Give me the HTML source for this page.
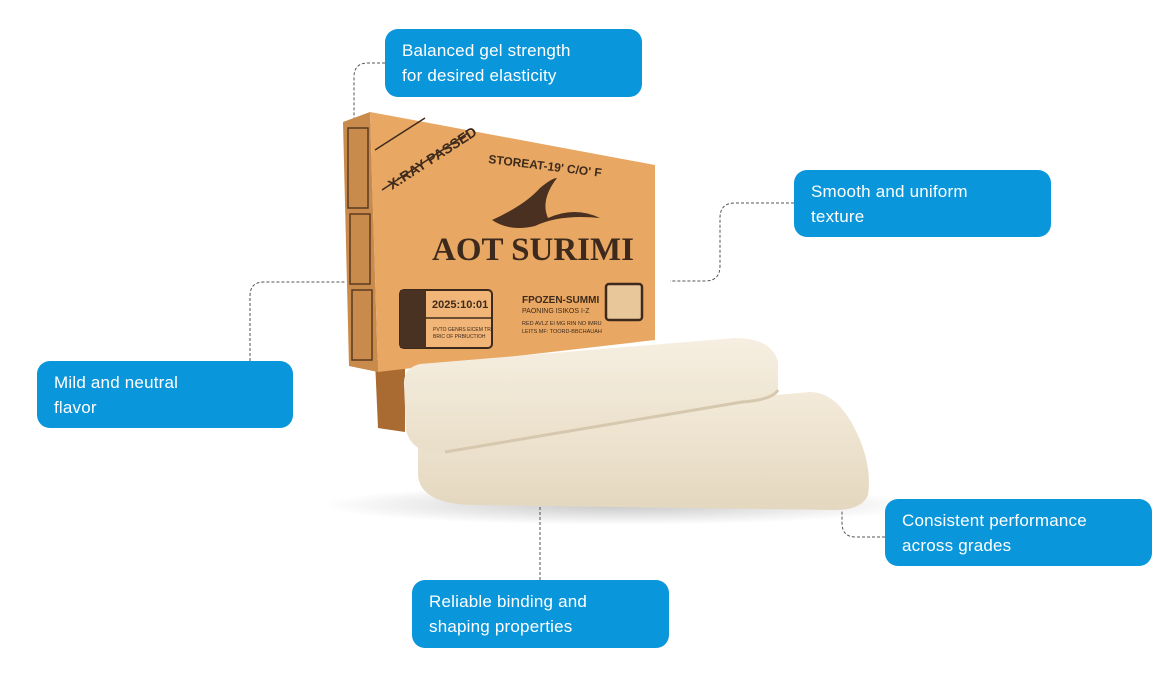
<!DOCTYPE html>
<html><head><meta charset="utf-8"><style>
body{margin:0;width:1169px;height:675px;background:#fff;overflow:hidden;position:relative;font-family:"Liberation Sans",sans-serif}
.b{position:absolute;background:#0a96db;color:#fff;border-radius:13px;font-size:17px;line-height:25px;padding:9px 0 0 17px;box-sizing:border-box;letter-spacing:.2px}
svg{position:absolute;left:0;top:0}
</style></head><body>
<svg width="1169" height="675" viewBox="0 0 1169 675">
<defs>
<radialGradient id="sh" cx="50%" cy="50%" r="50%"><stop offset="0" stop-color="#000" stop-opacity=".22"/><stop offset="1" stop-color="#000" stop-opacity="0"/></radialGradient>
<linearGradient id="bl" x1="0" y1="0" x2="0" y2="1"><stop offset="0" stop-color="#f3ead9"/><stop offset="1" stop-color="#e4d7bf"/></linearGradient>
<linearGradient id="bt" x1="0" y1="0" x2="0" y2="1"><stop offset="0" stop-color="#f6efe1"/><stop offset="1" stop-color="#e9dec8"/></linearGradient>
</defs>
<g fill="none" stroke="#555" stroke-width="1" stroke-dasharray="3,2">
<path d="M385 63 H368 Q354 63 354 77 V120"/>
<path d="M794 203 H735 Q720 203 720 218 V266 Q720 281 705 281 H670"/>
<path d="M250 361 V296 Q250 282 264 282 H345"/>
<path d="M885 537 H856 Q842 537 842 523 V510"/>
<path d="M540 580 V490"/>
</g>
<ellipse cx="620" cy="505" rx="300" ry="20" fill="url(#sh)"/>
<polygon points="375,360 405,360 405,432 378,428" fill="#a96b32"/>
<polygon points="343,122 370,112 378,372 349,366" fill="#c98b4c"/>
<g fill="none" stroke="#5a3a20" stroke-width="1.5"><rect x="348" y="128" width="20" height="80"/><rect x="350" y="214" width="20" height="70"/><rect x="352" y="290" width="20" height="70"/></g>
<polygon points="370,112 655,165 655,340 378,372" fill="#e8a863"/>
<line x1="382" y1="190" x2="468" y2="133" stroke="#3e2a1c" stroke-width="1.5"/>
<line x1="375" y1="150" x2="425" y2="118" stroke="#3e2a1c" stroke-width="1.5"/>
<text x="392" y="190" transform="rotate(-33 392 190)" font-weight="bold" font-size="14" fill="#3e2a1c">X:RAY PASSED</text>
<text x="488" y="163" transform="rotate(7 488 163)" font-weight="bold" font-size="12" fill="#3e2a1c">STOREAT-19' C/O' F</text>
<path d="M492 220 Q525 205 540 188 Q552 178 557 178 Q540 200 548 218 Q575 206 600 218 Q560 214 535 226 Q510 232 492 220Z" fill="#4a3020"/>
<text x="432" y="260" font-family="Liberation Serif" font-weight="bold" font-size="33" fill="#3e2a1c">AOT SURIMI</text>
<rect x="400" y="290" width="92" height="58" rx="4" fill="#f0b577" stroke="#3e2a1c" stroke-width="2"/>
<rect x="400" y="290" width="26" height="58" fill="#4a3222"/>
<line x1="426" y1="318" x2="492" y2="318" stroke="#3e2a1c" stroke-width="1.5"/>
<text x="432" y="308" font-size="11" font-weight="bold" fill="#3e2a1c">2025:10:01</text>
<text x="433" y="331" font-size="5" fill="#3e2a1c">PVTO GENRS EICEM TRI</text>
<text x="433" y="338" font-size="5" fill="#3e2a1c">BRIC OF PRBIUCTIOH</text>
<text x="522" y="303" font-size="10" font-weight="bold" fill="#3e2a1c">FPOZEN-SUMMI</text>
<text x="522" y="313" font-size="7" fill="#3e2a1c">PAONING ISIKOS I-Z</text>
<text x="522" y="325" font-size="5.5" fill="#3e2a1c">RED AVLZ EI MG RIN NO IMRU</text>
<text x="522" y="333" font-size="5.5" fill="#3e2a1c">LEITS MF: TOORD-BBCHAUAH</text>
<rect x="606" y="284" width="36" height="36" rx="3" fill="#e8c79a" stroke="#3e2a1c" stroke-width="2.5"/>
<path d="M418 450 Q414 425 440 425 L810 392 Q840 392 860 440 Q872 470 868 495 Q862 510 835 510 L470 505 Q420 503 418 475Z" fill="url(#bl)"/>
<path d="M404 385 Q403 368 420 364 L735 338 Q772 338 778 362 L778 390 Q772 400 742 402 L445 452 Q412 455 406 430Z" fill="url(#bt)"/>
<path d="M445 452 L742 402 Q772 400 778 390" fill="none" stroke="#d6c8ae" stroke-width="3"/>
</svg>
<div class="b" style="left:385px;top:29px;width:257px;height:68px">Balanced gel strength<br>for desired elasticity</div>
<div class="b" style="left:794px;top:170px;width:257px;height:67px">Smooth and uniform<br>texture</div>
<div class="b" style="left:37px;top:361px;width:256px;height:67px">Mild and neutral<br>flavor</div>
<div class="b" style="left:885px;top:499px;width:267px;height:67px">Consistent performance<br>across grades</div>
<div class="b" style="left:412px;top:580px;width:257px;height:68px">Reliable binding and<br>shaping properties</div>
</body></html>
